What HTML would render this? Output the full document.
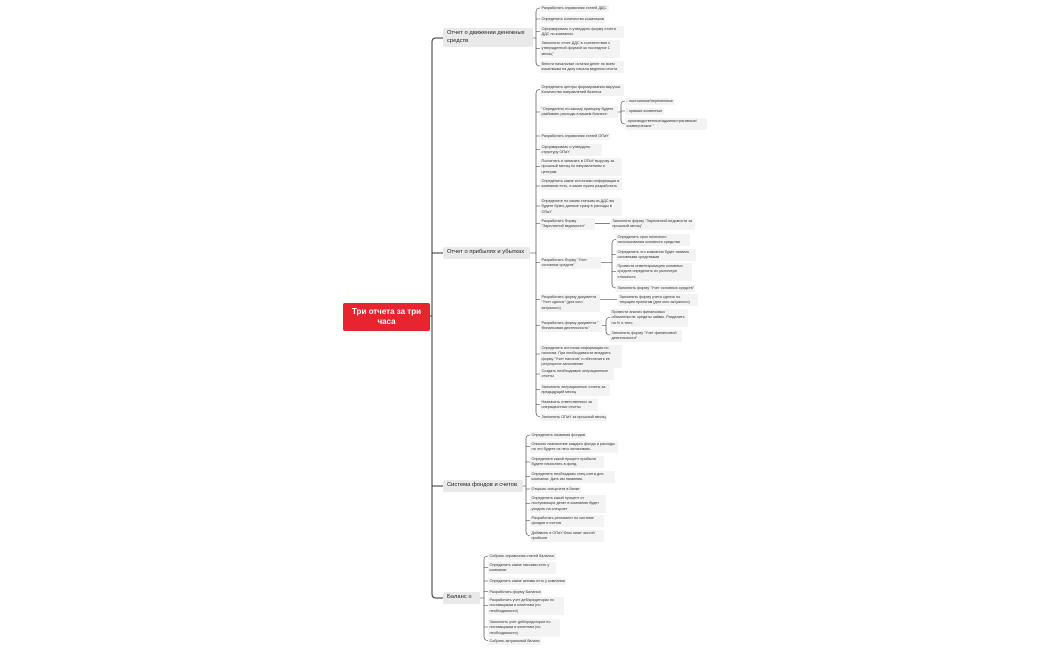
<!DOCTYPE html>
<html><head><meta charset="utf-8"><style>
html,body{margin:0;padding:0;background:#fff;}
#c{position:relative;width:1050px;height:650px;overflow:hidden;font-family:"Liberation Sans","DejaVu Sans",sans-serif;}
.l{position:absolute;background:#f3f3f3;color:#333;font-size:3.8px;line-height:5.5px;padding:0.5px 1.5px;border-radius:1px;box-sizing:border-box;}
.b{position:absolute;background:#e9e9e9;color:#222;font-size:5.8px;line-height:7.5px;padding:2px 4px;border-radius:2px;box-sizing:border-box;}
.n{white-space:nowrap;}
.r{position:absolute;left:343px;top:303px;width:87px;height:28px;background:#e8242f;color:#fff;font-size:8px;font-weight:bold;line-height:10px;text-align:center;padding-top:4px;box-sizing:border-box;border-radius:2px;}
svg{position:absolute;left:0;top:0;}
</style></head><body><div id="c">
<svg width="1050" height="650" fill="none" stroke="#333">
<path stroke-width="1" d="M430 316H432 M443 38H436Q432 38 432 42V594Q432 598 436 598H443 M432 253H443 M432 486H443"/>
<g stroke-width="0.6">
<path d="M533 38H536 M540 8Q536 8 536 12V62Q536 66 540 66 M536 19H540 M536 31.5H540 M536 48.5H540"/>
<path d="M530 253H536 M540 89.5Q536 89.5 536 93.5V412.5Q536 416.5 540 416.5 M536 112H540 M536 136H540 M536 149.5H540 M536 166.5H540 M536 186H540 M536 206H540 M536 223.5H540 M536 262.5H540 M536 299.5H540 M536 325.5H540 M536 354H540 M536 374H540 M536 389.5H540 M536 404.5H540"/>
<path d="M616 112H621 M625 101Q621 101 621 105V120Q621 124 625 124 M621 111H625"/>
<path d="M595 223.5H610"/>
<path d="M601 262.5H612 M616 239.5Q612 239.5 612 243.5V284Q612 288 616 288 M612 254.5H616 M612 271.5H616"/>
<path d="M600 299.5H617"/>
<path d="M602 325.5H606 M610 317.5Q606 317.5 606 321.5V331Q606 335 610 335"/>
<path d="M523 486H526 M530 435Q526 435 526 439V531.5Q526 535.5 530 535.5 M526 446.5H530 M526 462H530 M526 476.5H530 M526 489H530 M526 503.5H530 M526 520.5H530"/>
<path d="M480 598H484 M488 556Q484 556 484 560V636.5Q484 640.5 488 640.5 M484 567.5H488 M484 581H488 M484 591.5H488 M484 605.5H488 M484 627H488"/>
</g>
</svg>
<div class="r">Три отчета за три<br>часа</div>
<div class="b" style="left:443px;top:28px;width:90px;">Отчет о движении денежных средств</div>
<div class="b n" style="left:443px;top:247px;width:87px;">Отчет о прибылях и убытках</div>
<div class="b n" style="left:443px;top:480px;width:80px;">Система фондов и счетов</div>
<div class="b n" style="left:443px;top:592px;width:37px;">Баланс ≡</div>

<div class="l" style="left:540px;top:5px;">Разработать справочник статей ДДС.</div>
<div class="l" style="left:540px;top:16px;">Определить количество кошельков</div>
<div class="l" style="left:540px;top:26px;width:84px;">Сформировать и утвердить форму отчета ДДС по компании.</div>
<div class="l" style="left:540px;top:40px;width:80px;">Заполнить отчет ДДС в соответствии с утвержденной формой за последние 1 месяц"</div>
<div class="l" style="left:540px;top:61px;width:84px;">Внести начальные остатки денег по всем кошелькам на дату начала ведения отчета</div>

<div class="l" style="left:540px;top:84px;width:84px;">Определить центры формирования выручки. Количество направлений бизнеса</div>
<div class="l" style="left:540px;top:106px;width:78px;">"Определить по какому принципу будете разбивать расходы в вашем бизнесе:</div>
<div class="l" style="left:625px;top:98px;">- постоянные/переменные</div>
<div class="l" style="left:625px;top:108px;">- прямые косвенные</div>
<div class="l" style="left:625px;top:118px;width:82px;">-производственные/административные/коммерческие "</div>
<div class="l" style="left:540px;top:133px;">Разработать справочник статей ОПиУ</div>
<div class="l" style="left:540px;top:144px;width:62px;">Сформировать и утвердить структуру ОПиУ</div>
<div class="l" style="left:540px;top:158px;width:82px;">Посчитать и записать в ОПиУ выручку за прошлый месяц по направлениям и центрам</div>
<div class="l" style="left:540px;top:178px;width:82px;">Определить какие источники информации в компании есть, а какие нужно разработать</div>
<div class="l" style="left:540px;top:198px;width:82px;">Определите по каким статьям из ДДС вы будете брать данные сразу в расходы в ОПиУ</div>
<div class="l" style="left:540px;top:218px;width:55px;">Разработать Форму "Зарплатной ведомости"</div>
<div class="l" style="left:611px;top:218px;width:84px;">Заполнить форму "Зарплатной ведомости за прошлый месяц"</div>
<div class="l" style="left:540px;top:257px;width:61px;">Разработать Форму "Учет основных средств"</div>
<div class="l" style="left:616px;top:234px;width:74px;">Определить срок полезного использования основного средства</div>
<div class="l" style="left:616px;top:249px;width:80px;">Определить что компания будет назвать основными средствами</div>
<div class="l" style="left:616px;top:263px;width:76px;">Провести инвентаризацию основных средств определить их рыночную стоимость</div>
<div class="l" style="left:616px;top:285px;">Заполнить форму "Учет основных средств"</div>
<div class="l" style="left:540px;top:294px;width:60px;">Разработать форму документа "Учет сделок" (для кого актуально)</div>
<div class="l" style="left:618px;top:294px;width:80px;">Заполнить форму учета сделок по текущим проектам (для кого актуально)</div>
<div class="l" style="left:540px;top:320px;width:62px;">Разработать форму документа " Финансовая деятельность"</div>
<div class="l" style="left:610px;top:309px;width:78px;">Провести анализ финансовых обязательств: кредиты займы. Разделить на % и тело.</div>
<div class="l" style="left:610px;top:330px;width:72px;">Заполнить форму "Учет финансовой деятельности"</div>
<div class="l" style="left:540px;top:345px;width:82px;">Определить источник информации по налогам. При необходимости внедрить форму "Учет налогов" и обеспечить ее регулярное заполнение</div>
<div class="l" style="left:540px;top:368px;width:74px;">Создать необходимые операционные отчеты</div>
<div class="l" style="left:540px;top:384px;width:70px;">Заполнить операционные отчеты за предыдущий месяц</div>
<div class="l" style="left:540px;top:399px;width:58px;">Назначить ответственных за операционные отчеты</div>
<div class="l" style="left:540px;top:414px;">Заполнить ОПиУ за прошлый месяц</div>

<div class="l" style="left:530px;top:432px;">Определить названия фондов</div>
<div class="l" style="left:530px;top:441px;width:88px;">Описать назначение каждого фонда и расходы на что будете из него оплачивать.</div>
<div class="l" style="left:530px;top:456px;width:74px;">Определите какой процент прибыли будете начислять в фонд.</div>
<div class="l" style="left:530px;top:471px;width:85px;">Определить необходимы спец.счета для компании. Дать им названия.</div>
<div class="l" style="left:530px;top:486px;">Открыть спецсчета в банке</div>
<div class="l" style="left:530px;top:495px;width:76px;">Определить какой процент от поступающих денег в компанию будет уходить на спецсчет</div>
<div class="l" style="left:530px;top:515px;width:74px;">Разработать регламент по системе фондов и счетов</div>
<div class="l" style="left:530px;top:530px;width:74px;">Добавить в ОПиУ блок ниже чистой прибыли</div>

<div class="l" style="left:488px;top:553px;">Собрать справочник статей баланса.</div>
<div class="l" style="left:488px;top:562px;width:68px;">Определить какие пассивы есть у компании</div>
<div class="l" style="left:488px;top:578px;">Определить какие активы есть у компании</div>
<div class="l" style="left:488px;top:589px;">Разработать форму Баланса</div>
<div class="l" style="left:488px;top:597px;width:76px;">Разработать учет деб/кредиторки по поставщикам и клиентам (по необходимости)</div>
<div class="l" style="left:488px;top:619px;width:72px;">Заполнить учет деб/кредиторки по поставщикам и клиентам (по необходимости)</div>
<div class="l" style="left:488px;top:638px;">Собрать актуальный баланс</div>
</div></body></html>
